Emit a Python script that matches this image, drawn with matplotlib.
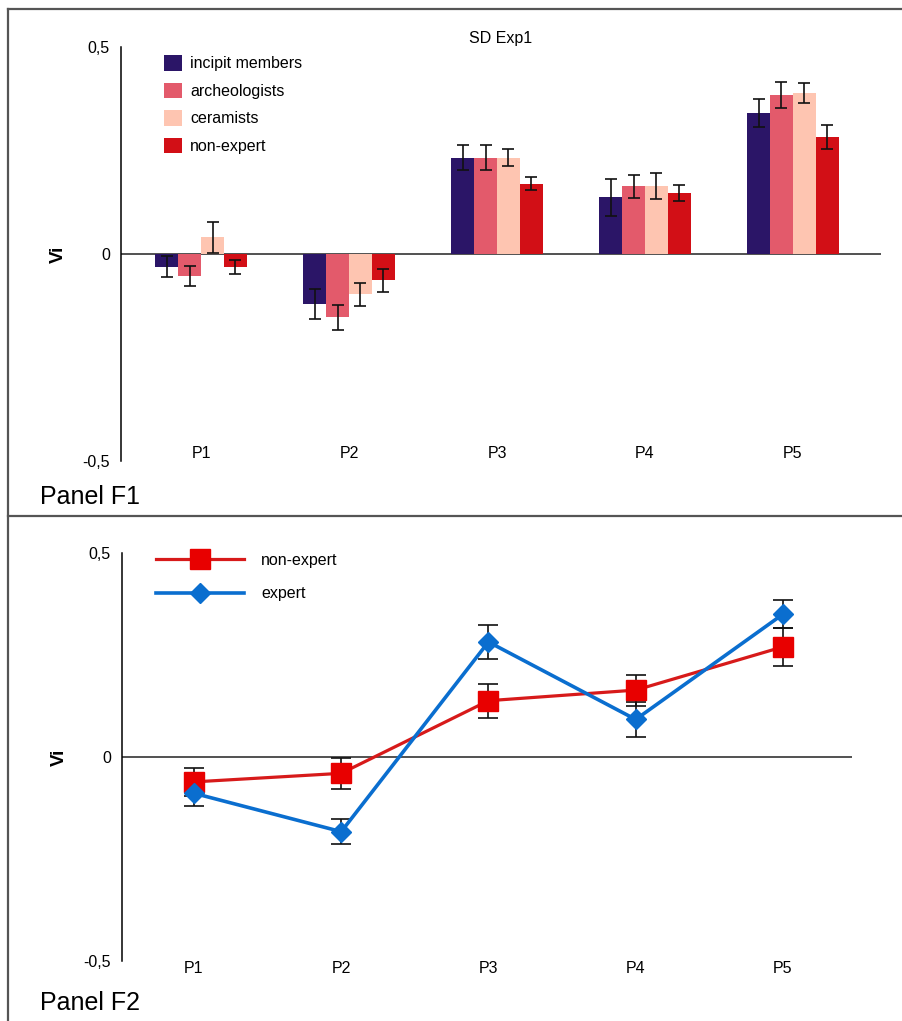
import matplotlib
matplotlib.use("Agg")
import matplotlib.pyplot as plt
import numpy as np
from matplotlib.lines import Line2D
from matplotlib.patches import Patch

plt.rcParams["font.family"] = ["Liberation Sans", "DejaVu Sans"]

# panel F1: mean Vi per group with SD
positions = ["P1", "P2", "P3", "P4", "P5"]
groups = ["incipit members", "archeologists", "ceramists", "non-expert"]
group_colors = ["#2B1567", "#E35A6B", "#FEC5B1", "#D20F16"]
incipit_vals = [-0.031, -0.121, 0.233, 0.137, 0.340]
incipit_sd = [0.025, 0.037, 0.031, 0.045, 0.034]
archeo_vals = [-0.053, -0.153, 0.233, 0.164, 0.384]
archeo_sd = [0.025, 0.030, 0.031, 0.028, 0.031]
ceram_vals = [0.040, -0.097, 0.233, 0.164, 0.389]
ceram_sd = [0.037, 0.028, 0.020, 0.031, 0.025]
nonexp_vals = [-0.031, -0.064, 0.170, 0.147, 0.283]
nonexp_sd = [0.017, 0.027, 0.015, 0.019, 0.029]

# panel F2: non-expert vs expert
f2_nonexpert = [-0.061, -0.040, 0.138, 0.164, 0.270]
f2_nonexpert_sd = [0.035, 0.038, 0.042, 0.038, 0.046]
f2_expert = [-0.089, -0.183, 0.282, 0.092, 0.350]
f2_expert_sd = [0.030, 0.030, 0.042, 0.042, 0.034]

FS = 11.5
W, H = 903, 1021
fig = plt.figure(figsize=(W / 100, H / 100), dpi=100)


def px_axes(left, top, right, bottom):
    return fig.add_axes([left / W, 1 - bottom / H, (right - left) / W, (bottom - top) / H])


def style_axes(ax, x_pad):
    for side in ("top", "right", "bottom"):
        ax.spines[side].set_visible(False)
    ax.spines["left"].set_linewidth(1.1)
    ax.axhline(0, color="#222222", lw=1.1, zorder=1)
    ax.set_ylim(-0.5, 0.5)
    ax.set_yticks([0.5, 0, -0.5], ["0,5", "0", "-0,5"])
    ax.set_xticks(np.arange(len(positions)), positions)
    ax.tick_params(axis="y", length=0, pad=8, labelsize=FS)
    ax.tick_params(axis="x", length=0, pad=x_pad, labelsize=FS)
    ax.set_ylabel("Vi", fontsize=13.5, fontweight="bold", labelpad=11)


# ---- Panel F1 ----
ax1 = px_axes(121, 47, 881, 461)
x = np.arange(len(positions))
width = 0.155
series = [
    (incipit_vals, incipit_sd),
    (archeo_vals, archeo_sd),
    (ceram_vals, ceram_sd),
    (nonexp_vals, nonexp_sd),
]
for i, ((vals, sd), color) in enumerate(zip(series, group_colors)):
    xs = x + (i - 1.5) * width
    ax1.bar(xs, vals, width, color=color, zorder=2)
    ax1.errorbar(xs, vals, yerr=sd, fmt="none", ecolor="#111111",
                 elinewidth=1.2, capsize=4.5, capthick=1.2, zorder=3)
ax1.set_xlim(-0.541, 4.595)
style_axes(ax1, -11)
ax1.set_title("SD Exp1", fontsize=FS, pad=3)

handles = [Patch(facecolor=c, edgecolor="none") for c in group_colors]
ax1.legend(handles, groups, loc="upper left", bbox_to_anchor=(164 / W, 1 - 55 / H),
           bbox_transform=fig.transFigure, frameon=False, fontsize=FS,
           handlelength=1.15, handleheight=1.15, handletextpad=0.5,
           labelspacing=0.7, borderpad=0, borderaxespad=0)

# ---- Panel F2 ----
ax2 = px_axes(122, 553, 852, 961)
ax2.errorbar(x, f2_nonexpert, yerr=f2_nonexpert_sd, fmt="none", ecolor="#111111",
             elinewidth=1.2, capsize=7, capthick=1.2, zorder=2)
ax2.errorbar(x, f2_expert, yerr=f2_expert_sd, fmt="none", ecolor="#111111",
             elinewidth=1.2, capsize=7, capthick=1.2, zorder=2)
ax2.plot(x, f2_nonexpert, color="#D71A1A", lw=2.3, marker="s", markersize=14,
         markerfacecolor="#E80000", markeredgecolor="#E80000", zorder=3)
ax2.plot(x, f2_expert, color="#0A6ECF", lw=2.6, marker="D", markersize=10,
         markerfacecolor="#0A6ECF", markeredgecolor="#0A6ECF", zorder=4)
ax2.set_xlim(-0.489, 4.469)
style_axes(ax2, 0)

line_handles = [
    Line2D([], [], color="#D71A1A", lw=2.3, marker="s", markersize=14,
           markerfacecolor="#E80000", markeredgecolor="#E80000"),
    Line2D([], [], color="#0A6ECF", lw=2.6, marker="D", markersize=10,
           markerfacecolor="#0A6ECF", markeredgecolor="#0A6ECF"),
]
ax2.legend(line_handles, ["non-expert", "expert"], loc="upper left",
           bbox_to_anchor=(156 / W, 1 - 553 / H), bbox_transform=fig.transFigure,
           frameon=False, fontsize=FS, handlelength=5.5, handletextpad=1.1,
           labelspacing=1.15, borderpad=0, borderaxespad=0, numpoints=1)

# panel captions and frame lines
fig.text(40 / W, 1 - 497 / H, "Panel F1", fontsize=18, va="center", ha="left")
fig.text(40 / W, 1 - 1003 / H, "Panel F2", fontsize=18, va="center", ha="left")
frame = dict(color="#555555", lw=1.6, transform=fig.transFigure)
fig.add_artist(Line2D([8 / W, 1], [1 - 9 / H, 1 - 9 / H], **frame))
fig.add_artist(Line2D([8 / W, 8 / W], [1 - 9 / H, 0], **frame))
fig.add_artist(Line2D([8 / W, 1], [1 - 516 / H, 1 - 516 / H], **frame))

fig.savefig("out.png", dpi=100)
